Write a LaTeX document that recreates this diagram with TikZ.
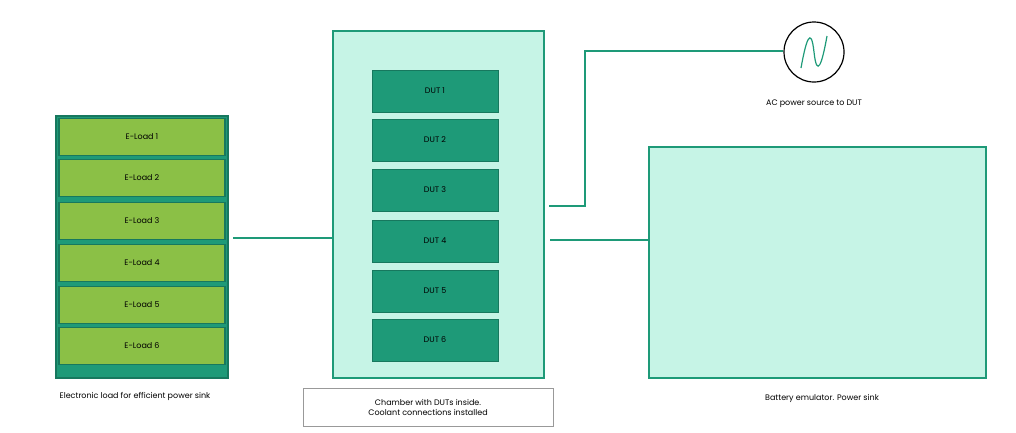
\documentclass[tikz,border=0pt]{standalone}
\usepackage{fontspec}
\setmainfont{Poppins}
\definecolor{teal1}{HTML}{1E9A78}
\definecolor{tealdk}{HTML}{17785E}
\definecolor{mint}{HTML}{C6F4E6}
\definecolor{lime}{HTML}{8BC046}
\begin{document}
\begin{tikzpicture}[x=1pt,y=-1pt,
  eload/.style = {draw=tealdk, line width=1.2pt, fill=lime, minimum width=166pt, minimum height=37pt, inner sep=0pt, font=\fontsize{8}{10}\selectfont},
  dut/.style = {draw=tealdk, line width=1pt, fill=teal1, minimum width=126pt, minimum height=42pt, inner sep=0pt, font=\fontsize{8}{10}\selectfont},
  box/.style = {draw=teal1, line width=1.5pt, fill=mint, inner sep=0pt},
  lbl/.style = {font=\fontsize{8}{10}\selectfont, align=center},
  wire/.style = {draw=teal1, line width=2.4pt}]
\useasboundingbox (0,0) rectangle (1016,432);
\node[box, fill=teal1, draw=tealdk, minimum width=172pt, minimum height=262pt] (rack) at (142,247) {};
\node[eload] (e1) at (142,137) {E-Load 1};
\node[eload] (e2) at (142,178) {E-Load 2};
\node[eload] (e3) at (142,221) {E-Load 3};
\node[eload] (e4) at (142,263) {E-Load 4};
\node[eload] (e5) at (142,305) {E-Load 5};
\node[eload] (e6) at (142,346) {E-Load 6};
\node[lbl] (racklbl) at (135,396) {Electronic load for efficient power sink};
\node[box, minimum width=211pt, minimum height=347pt] (chamber) at (438.5,204.5) {};
\node[dut] (d1) at (435,91) {DUT 1};
\node[dut] (d2) at (435,140) {DUT 2};
\node[dut] (d3) at (435,190) {DUT 3};
\node[dut] (d4) at (435,241) {DUT 4};
\node[dut] (d5) at (435,291) {DUT 5};
\node[dut] (d6) at (435,340) {DUT 6};
\node[draw=black!40, line width=0.6pt, minimum width=250pt, minimum height=38pt, lbl] (caption) at (428,407) {Chamber with DUTs inside.\\Coolant connections installed};
\node[box, minimum width=337pt, minimum height=231pt] (battery) at (817.5,262.5) {};
\node[lbl] (batlbl) at (822,398) {Battery emulator. Power sink};
\node[draw=black, line width=1.2pt, circle, minimum size=60pt, inner sep=0pt] (ac) at (814,52) {};
\draw[teal1, line width=1.2pt] (801,68) .. controls (806,40) and (811,25) .. (814,52) .. controls (817,79) and (822,64) .. (827,36);
\node[lbl] (aclbl) at (814,104) {AC power source to DUT};
\coordinate (c1) at (233,238);
\coordinate (c2) at (549,206);
\coordinate (c3) at (550,240);
\draw[wire] (c1) -- (chamber.west |- c1);
\draw[wire] (c2) -- (585,206) -- (585,51) -- (ac.west |- 0,51);
\draw[wire] (c3) -- (battery.west |- c3);
\end{tikzpicture}
\end{document}
